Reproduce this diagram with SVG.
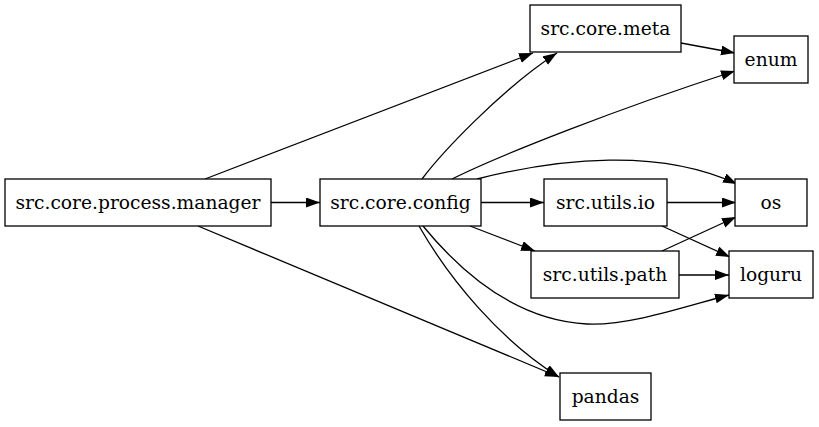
<svg xmlns="http://www.w3.org/2000/svg" width="819" height="427" viewBox="0 0 819 427">
<defs>
<style>
.node rect{fill:#fff;stroke:#000;stroke-width:1.3}
.node text{font-family:"DejaVu Serif",serif;font-size:18.67px;text-anchor:middle;fill:#000}
.edges path{fill:none;stroke:#000;stroke-width:1.3;marker-end:url(#arr)}
</style>
<marker id="arr" markerUnits="userSpaceOnUse" markerWidth="15" markerHeight="11" refX="14" refY="5" orient="auto">
<path d="M0,0 L14,5 L0,10 z" fill="#000"/>
</marker>
</defs>
<rect width="819" height="427" fill="#fff"/>
<g class="edges" id="edges">
<path d="M205,179 L533,53"/>
<path d="M271,202.5 L320,202.5"/>
<path d="M198,226 L559,377"/>
<path d="M422,179 C440,155 500,90 557,53"/>
<path d="M452,179 C500,155 620,108 735,71"/>
<path d="M477,179 C560,158 660,148 737,184"/>
<path d="M481,202.5 L544,202.5"/>
<path d="M470,226 L535,251"/>
<path d="M423,226 C455,265 510,320 587,324 C630,326 690,305 729,295"/>
<path d="M419,226 C450,280 500,340 559,377"/>
<path d="M681,43 L735,53"/>
<path d="M667,202.5 L736,202.5"/>
<path d="M662,226 L730,257"/>
<path d="M662,251 L736,217"/>
<path d="M679,275 L729,275"/>
</g>
<g class="node" id="n_manager"><rect x="5" y="179" width="266" height="47"/><text x="138" y="209">src.core.process.manager</text></g>
<g class="node" id="n_config"><rect x="320" y="179" width="161" height="47"/><text x="400.5" y="209">src.core.config</text></g>
<g class="node" id="n_meta"><rect x="530" y="5" width="151" height="47"/><text x="605.5" y="35">src.core.meta</text></g>
<g class="node" id="n_enum"><rect x="734" y="36" width="74" height="47"/><text x="771" y="66">enum</text></g>
<g class="node" id="n_io"><rect x="544" y="179" width="123" height="47"/><text x="605.5" y="209">src.utils.io</text></g>
<g class="node" id="n_os"><rect x="735" y="179" width="72" height="47"/><text x="771" y="209">os</text></g>
<g class="node" id="n_path"><rect x="531" y="251" width="148" height="47"/><text x="605" y="281">src.utils.path</text></g>
<g class="node" id="n_loguru"><rect x="729" y="251" width="84" height="47"/><text x="771" y="281">loguru</text></g>
<g class="node" id="n_pandas"><rect x="560" y="373" width="91" height="47"/><text x="605.5" y="403">pandas</text></g>
</svg>
